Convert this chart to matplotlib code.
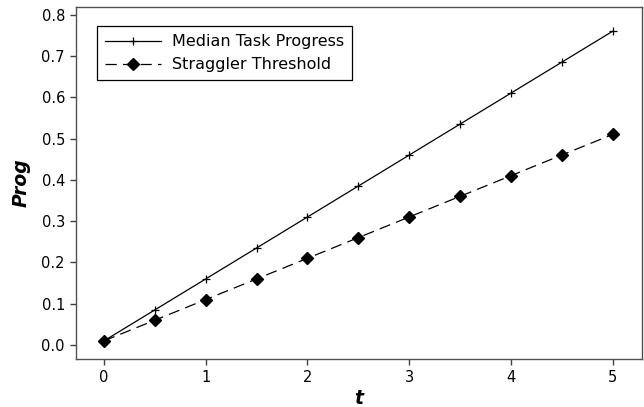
import matplotlib
matplotlib.use("Agg")
import matplotlib.pyplot as plt

# data
t = [0, 0.5, 1, 1.5, 2, 2.5, 3, 3.5, 4, 4.5, 5]
median_progress = [0.01, 0.085, 0.16, 0.235, 0.31, 0.385, 0.46, 0.535, 0.61, 0.685, 0.76]
straggler_threshold = [0.01, 0.06, 0.11, 0.16, 0.21, 0.26, 0.31, 0.36, 0.41, 0.46, 0.51]
x_ticks = [0, 1, 2, 3, 4, 5]
y_ticks = [0.0, 0.1, 0.2, 0.3, 0.4, 0.5, 0.6, 0.7, 0.8]

plt.rcParams.update({"font.family": "DejaVu Sans", "font.size": 10.5})

fig = plt.figure(figsize=(6.44, 4.07), dpi=100)
ax = fig.add_axes([0.118, 0.118, 0.879, 0.865])

ax.plot(t, median_progress, color="black", lw=0.9, marker="+", markersize=6,
        markeredgewidth=0.9, label="Median Task Progress")
ax.plot(t, straggler_threshold, color="black", lw=0.9, linestyle=(0, (9, 5)),
        marker="D", markersize=6, label="Straggler Threshold")

ax.set_xlim(-0.276, 5.29)
ax.set_ylim(-0.034, 0.819)
ax.set_xticks(x_ticks)
ax.set_xticklabels([str(v) for v in x_ticks])
ax.set_yticks(y_ticks)
ax.set_yticklabels([f"{v:.1f}" for v in y_ticks])
ax.tick_params(direction="out", length=4, width=1, color="#404040", pad=4)
for s in ax.spines.values():
    s.set_color("#505050")
    s.set_linewidth(1.0)

ax.set_xlabel("t", fontsize=13.5, fontweight="bold", style="italic", labelpad=3)
ax.set_ylabel("Prog", fontsize=13.5, fontweight="bold", style="italic", labelpad=8)

leg = ax.legend(loc="upper left", bbox_to_anchor=(0.037, 0.945), fancybox=False,
                framealpha=1, edgecolor="black", handlelength=3.5, handletextpad=0.7,
                borderpad=0.5, labelspacing=0.5, fontsize=11.5, borderaxespad=0)
leg.get_frame().set_linewidth(0.9)

fig.savefig("out.png", dpi=100)
